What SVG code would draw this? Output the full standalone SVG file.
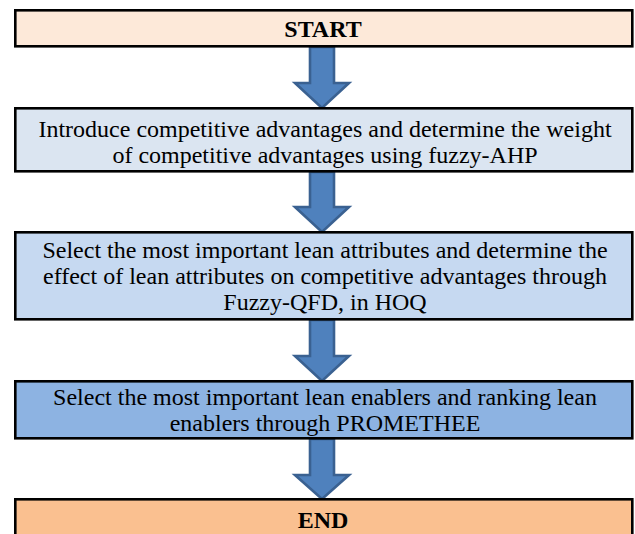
<svg xmlns="http://www.w3.org/2000/svg" width="635" height="534" viewBox="0 0 635 534">
<style>
.box{stroke:#000;stroke-width:2.6}
.t{font-family:"Liberation Serif","Times New Roman","DejaVu Serif",serif;font-size:24px;fill:#000;text-anchor:middle}
.b{font-weight:bold}
.arr{fill:#4F81BD;stroke:#3A6191;stroke-width:2.6;stroke-linejoin:miter}
</style>
<rect width="635" height="534" fill="#fff"/>
<g id="connectors">
<polygon class="arr" points="310,47 334,47 334,83 349,83 322,108 295,83 310,83"/>
<polygon class="arr" points="310,172 334,172 334,207 349,207 322,232 295,207 310,207"/>
<polygon class="arr" points="310,320 334,320 334,356 349,356 322,381 295,356 310,356"/>
<polygon class="arr" points="310,439 334,439 334,475 349,475 322,499 295,475 310,475"/>
</g>
<g id="start">
<rect class="box" x="15.3" y="10.3" width="617" height="36" fill="#FDE9D9"/>
<text class="t b" x="323" y="37">START</text>
</g>
<g id="step1">
<rect class="box" x="15.3" y="108.3" width="617" height="63" fill="#DBE5F1"/>
<text class="t" x="325" y="137">Introduce competitive advantages and determine the weight</text>
<text class="t" x="325" y="163">of competitive advantages using fuzzy-AHP</text>
</g>
<g id="step2">
<rect class="box" x="15.3" y="232.3" width="617" height="87" fill="#C6D9F1"/>
<text class="t" x="325" y="258">Select the most important lean attributes and determine the</text>
<text class="t" x="325" y="284">effect of lean attributes on competitive advantages through</text>
<text class="t" x="325" y="310">Fuzzy-QFD, in HOQ</text>
</g>
<g id="step3">
<rect class="box" x="15.3" y="381.3" width="617" height="57" fill="#8DB3E2"/>
<text class="t" x="325" y="405">Select the most important lean enablers and ranking lean</text>
<text class="t" x="325" y="431">enablers through PROMETHEE</text>
</g>
<g id="end">
<rect class="box" x="15.3" y="499.3" width="617" height="40" fill="#FAC090"/>
<text class="t b" x="323" y="528">END</text>
</g>
</svg>
